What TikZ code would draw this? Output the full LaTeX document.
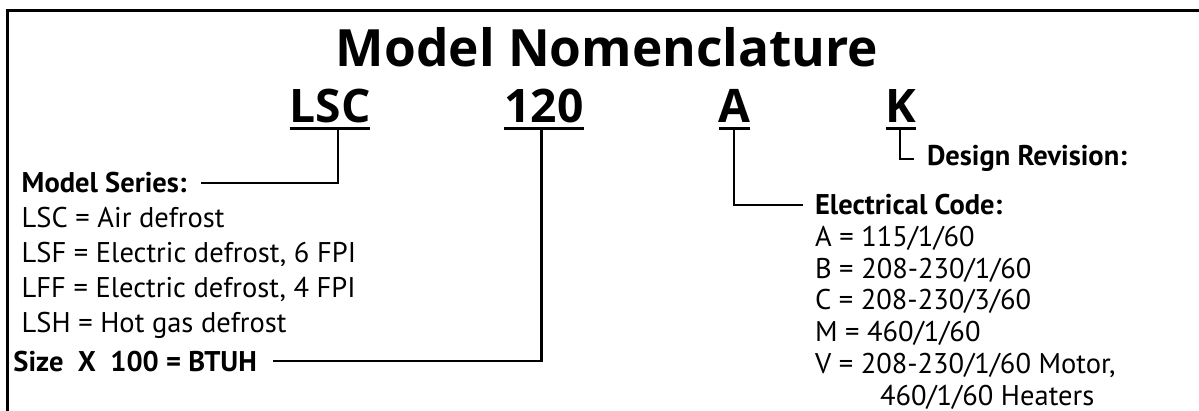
\documentclass[tikz,border=0pt]{standalone}
\usepackage{fontspec}
\setmainfont{PT Sans}
\newfontfamily\headfont{Open Sans}
\usetikzlibrary{calc}
\begin{document}
\begin{tikzpicture}[x=1pt,y=1pt,
  every node/.style={inner sep=0pt,outer sep=0pt},
  txt/.style={anchor=base west,font=\fontsize{28.5}{34}\selectfont},
  lbl/.style={anchor=base west,font=\fontsize{28.5}{34}\selectfont\bfseries},
  code/.style={anchor=base,font=\headfont\fontsize{46.2}{56}\selectfont\bfseries},
  conn/.style={line width=2.5pt},
  uline/.style={line width=3.3pt}]
\useasboundingbox (0,0) rectangle (1199,-411);
\draw[line width=3.2pt] (7.5,-411) -- (7.5,-10.5) -- (1199,-10.5);
\node[anchor=base,font=\headfont\fontsize{51.4}{60}\selectfont\bfseries] (title) at (607,-66.7) {Model Nomenclature};
\node[code] (lsc) at (330,-123) {LSC};
\node[code] (n120) at (544,-123) {120};
\node[code] (a) at (734.5,-123) {A};
\node[code] (k) at (901,-123) {K};
\foreach \n in {lsc,n120,a,k}{
  \draw[uline] ([yshift=-5.3pt]\n.base west) -- ([yshift=-5.3pt]\n.base east);
}
\node[lbl] (ms) at (21.7,-193) {Model Series:};
\node[txt] (l1) at (21.7,-228) {LSC = Air defrost};
\node[txt] (l2) at (21.7,-263) {LSF = Electric defrost, 6 FPI};
\node[txt] (l3) at (21.7,-298) {LFF = Electric defrost, 4 FPI};
\node[txt] (l4) at (21.7,-333) {LSH = Hot gas defrost};
\node[lbl] (size) at (13.4,-371) {Size\ \ X\ \ 100 = BTUH};
\node[lbl] (ec) at (815,-215) {Electrical Code:};
\node[txt] (e1) at (815,-246.7) {A = 115/1/60};
\node[txt] (e2) at (815,-278.3) {B = 208-230/1/60};
\node[txt] (e3) at (815,-310) {C = 208-230/3/60};
\node[txt] (e4) at (815,-341.7) {M = 460/1/60};
\node[txt] (e5) at (815,-373.3) {V = 208-230/1/60 Motor,};
\node[txt] (e6) at (880,-405) {460/1/60 Heaters};
\node[lbl] (dr) at (927,-166) {Design Revision:};
\coordinate (lscu) at (338,-129);
\coordinate (n120u) at (541.5,-129);
\coordinate (au) at (734,-129);
\coordinate (ku) at (900,-129);
\draw[conn] (lscu) |- ([xshift=14pt]ms.east);
\draw[conn] (n120u) |- ([xshift=16pt]size.east);
\draw[conn] (au) |- ([xshift=-12pt]ec.west);
\draw[conn] (ku) |- ([xshift=-13pt]dr.west);
\end{tikzpicture}
\end{document}
